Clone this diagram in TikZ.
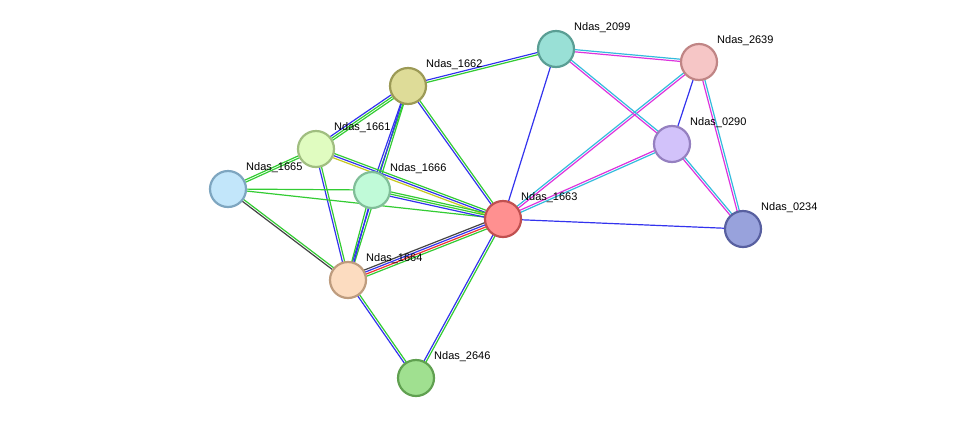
\documentclass[tikz,border=0pt]{standalone}
\usepackage{fontspec}
\setmainfont{Liberation Sans}
\usetikzlibrary{calc}
\definecolor{eg}{HTML}{33CC33}
\definecolor{eb}{HTML}{3333EE}
\definecolor{ey}{HTML}{C8C820}
\definecolor{ek}{HTML}{444444}
\definecolor{er}{HTML}{EE3333}
\definecolor{em}{HTML}{DD33DD}
\definecolor{ec}{HTML}{33BBDD}
\definecolor{f2099}{RGB}{153,224,214}\definecolor{d2099}{RGB}{90,158,148}
\definecolor{f2639}{RGB}{246,198,198}\definecolor{d2639}{RGB}{192,133,133}
\definecolor{f1662}{RGB}{222,220,152}\definecolor{d1662}{RGB}{156,154,86}
\definecolor{f0290}{RGB}{210,194,250}\definecolor{d0290}{RGB}{149,128,192}
\definecolor{f1661}{RGB}{224,252,192}\definecolor{d1661}{RGB}{160,190,128}
\definecolor{f1665}{RGB}{194,230,250}\definecolor{d1665}{RGB}{126,166,192}
\definecolor{f1666}{RGB}{192,250,216}\definecolor{d1666}{RGB}{128,190,152}
\definecolor{f1663}{RGB}{255,144,144}\definecolor{d1663}{RGB}{192,80,80}
\definecolor{f0234}{RGB}{152,162,220}\definecolor{d0234}{RGB}{88,96,160}
\definecolor{f1664}{RGB}{252,220,192}\definecolor{d1664}{RGB}{190,156,126}
\definecolor{f2646}{RGB}{160,224,144}\definecolor{d2646}{RGB}{96,160,80}
\newcommand{\myedge}[4]{%
  \foreach \c [count=\i] in {#4} {
    \pgfmathsetmacro{\off}{(\i-(#3+1)/2)*2.2}
    \draw[\c, line width=1.2pt] ($(#1)!\off pt!90:(#2)$) -- ($(#2)!\off pt!-90:(#1)$);
  }}
\tikzset{
  nd/.style={circle, minimum size=36pt, inner sep=0pt, line width=2.2pt, fill=f#1, draw=d#1},
  lb/.style={anchor=west, font=\fontsize{11pt}{12pt}\selectfont, inner sep=0pt}
}
\begin{document}
\begin{tikzpicture}[x=1pt,y=-1pt]
\useasboundingbox[fill=white] (0,0) rectangle (976,424);
\coordinate (a2099) at (556,49);
\coordinate (a2639) at (699,62);
\coordinate (a1662) at (408,86);
\coordinate (a0290) at (672,144);
\coordinate (a1661) at (316,149);
\coordinate (a1665) at (228,189);
\coordinate (a1666) at (372,190);
\coordinate (a1663) at (503,219);
\coordinate (a0234) at (743,229);
\coordinate (a1664) at (348,280);
\coordinate (a2646) at (416,378);
\myedge{a1662}{a2099}{2}{eg,eb}
\myedge{a1661}{a1662}{3}{eg,eg,eb}
\myedge{a1665}{a1661}{2}{eg,eg}
\myedge{a1662}{a1666}{2}{eb,eg}
\myedge{a1662}{a1664}{2}{eb,eg}
\myedge{a1666}{a1664}{2}{eg,eb}
\myedge{a1662}{a1663}{2}{eb,eg}
\myedge{a1661}{a1663}{3}{ey,eb,eg}
\myedge{a1661}{a1664}{2}{eb,eg}
\myedge{a1665}{a1666}{1}{eg}
\myedge{a1665}{a1663}{1}{eg}
\myedge{a1665}{a1664}{2}{ek,eg}
\myedge{a1666}{a1663}{3}{eb,eg,eg}
\myedge{a1664}{a1663}{4}{eg,er,eb,ek}
\myedge{a1663}{a2646}{2}{eb,eg}
\myedge{a1664}{a2646}{2}{eb,eg}
\myedge{a1663}{a2099}{1}{eb}
\myedge{a1663}{a2639}{2}{em,ec}
\myedge{a1663}{a0290}{2}{ec,em}
\myedge{a1663}{a0234}{1}{eb}
\myedge{a2099}{a2639}{2}{em,ec}
\myedge{a2099}{a0290}{2}{em,ec}
\myedge{a2639}{a0290}{1}{eb}
\myedge{a2639}{a0234}{2}{em,ec}
\myedge{a0290}{a0234}{2}{em,ec}
\foreach \n in {2099,2639,1662,0290,1661,1665,1666,1663,0234,1664,2646} {
  \node[nd=\n] (n\n) at (a\n) {};
  \node[lb] (l\n) at ($(a\n)+(18,-21)$) {Ndas\_\n};
}
\end{tikzpicture}
\end{document}
